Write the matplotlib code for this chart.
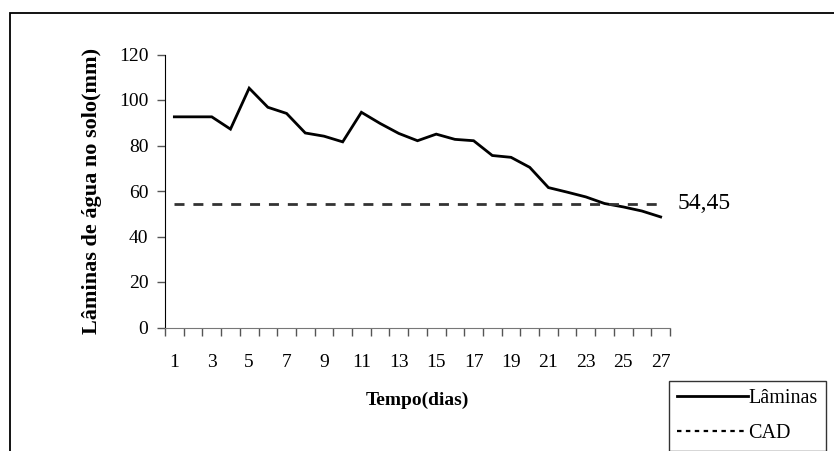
#!/usr/bin/env python
import numpy as np
import matplotlib
matplotlib.use('Agg')
import matplotlib.pyplot as plt
from matplotlib.lines import Line2D
from matplotlib.patches import Rectangle

# dias e laminas de agua no solo (mm)
dias = list(range(1, 28))
laminas = [92.6, 92.6, 92.6, 87.2, 105.2, 96.8, 94.1, 85.5, 84.1, 81.6,
           94.6, 89.7, 85.3, 82.1, 85.0, 82.7, 82.1, 75.6, 74.8, 70.4,
           61.5, 59.5, 57.4, 54.5, 53.0, 51.2, 48.6]
cad = 54.45
cad_label = '54,45'
yticks = [0, 20, 40, 60, 80, 100, 120]
xlabels = dias[::2]

plt.rcParams['font.family'] = ['Liberation Serif', 'DejaVu Serif']


def main():
    W, H = 834, 451
    fig = plt.figure(figsize=(W / 100, H / 100), dpi=100)
    ax = fig.add_axes([165 / W, 1 - 327.5 / H, (670 - 165) / W, (327.5 - 54.5) / H])

    ax.plot(dias, laminas, color='black', lw=2.0, solid_joinstyle='miter')
    ax.plot([dias[0], dias[-1]], [cad, cad], color='#333333', lw=2.0,
            dashes=(3.6, 3.2))
    ax.annotate(cad_label, xy=(dias[-1], cad), xytext=(12, 0),
                textcoords='offset points', va='center', ha='left',
                fontsize=17, annotation_clip=False)

    ax.set_xlim(0.5, 27.5)
    ax.set_ylim(0, 120)
    ax.set_yticks(yticks)
    ax.set_xticks(xlabels)
    ax.set_xticklabels([str(d) for d in xlabels])
    ax.set_xticks(np.arange(0.5, 28, 1), minor=True)
    ax.tick_params(axis='x', which='major', length=0, pad=19, labelsize=14)
    ax.tick_params(axis='x', which='minor', length=6, width=1, color='#555555')
    ax.tick_params(axis='y', length=6, width=1, color='#555555', pad=6,
                   labelsize=14)

    for s in ['top', 'right']:
        ax.spines[s].set_visible(False)
    ax.spines['left'].set_color('black')
    ax.spines['bottom'].set_color('#777777')

    ax.set_xlabel('Tempo(dias)', fontsize=14, fontweight='bold', labelpad=15)
    ax.set_ylabel('Lâminas de água no solo(mm)', fontsize=16,
                  fontweight='bold', labelpad=12)

    # moldura externa
    fig.add_artist(Rectangle((10 / W, -0.1), 1.2, 1 - 13 / H + 0.1,
                             transform=fig.transFigure, fill=False,
                             edgecolor='black', lw=1.3))

    handles = [Line2D([], [], color='black', lw=2.0),
               Line2D([], [], color='black', lw=1.6, dashes=(2.0, 2.0))]
    leg = fig.legend(handles, ['Lâminas', 'CAD'], loc='upper left',
                     bbox_to_anchor=(669 / W, 1 - 381 / H), borderaxespad=0,
                     fontsize=14.5, handlelength=3.5, handletextpad=0.05,
                     labelspacing=0.8, borderpad=0.4, fancybox=False,
                     frameon=True, edgecolor='black')
    leg.get_frame().set_linewidth(1.0)

    plt.savefig('out.png', dpi=100)
    plt.clf()


if __name__ == '__main__':
    main()
